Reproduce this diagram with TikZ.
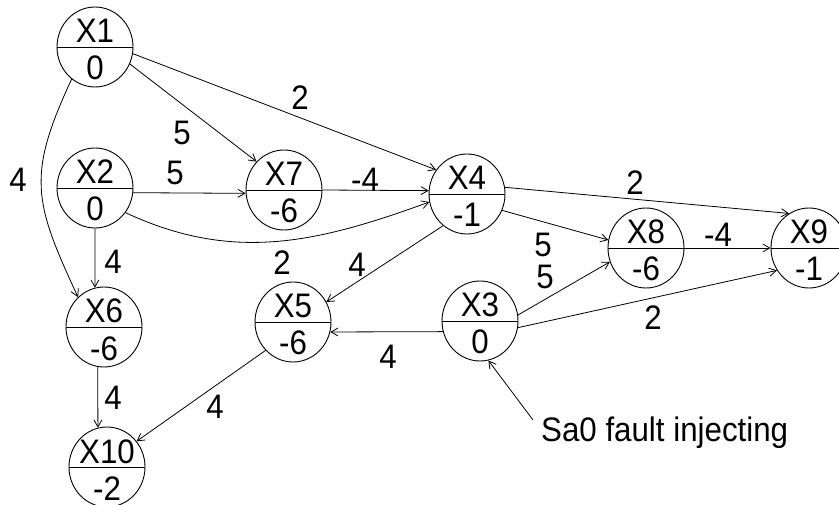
\documentclass[tikz,border=0pt]{standalone}
\usepackage{fontspec}
\setmainfont[FakeStretch=0.92]{Liberation Sans}
\usetikzlibrary{arrows.meta,shapes.geometric}

% vertex: name, x, y, upper text, lower text
\newcommand\gvert[5]{%
  \node[vtx] (#1) at (#2,#3) {};
  \draw[thinline] (#1.west) -- (#1.east);
  \node[lbl,anchor=base] (#1t) at ([yshift=4pt]#1.center) {#4};
  \node[lbl,anchor=base] (#1b) at ([yshift=-33pt]#1.center) {#5};
}

\begin{document}
\begin{tikzpicture}[x=1pt,y=1pt,
  thinline/.style={line width=0.9pt},
  vtx/.style={draw,ellipse,minimum width=76pt,minimum height=80pt,inner sep=0pt,thinline},
  lbl/.style={font=\fontsize{34}{34}\selectfont,inner sep=0pt},
  edge/.style={line width=0.8pt,-{Straight Barb[length=7pt,width=8pt]}},
]
\clip (0,0) rectangle (839,-505);

% vertices
\gvert{X1}{95}{-47}{X1}{0}
\gvert{X2}{95}{-188}{X2}{0}
\gvert{X6}{104}{-327}{X6}{-6}
\gvert{X10}{107}{-467}{X10}{-2}
\gvert{X7}{284}{-190}{X7}{-6}
\gvert{X4}{467}{-194}{X4}{-1}
\gvert{X5}{293}{-322}{X5}{-6}
\gvert{X3}{480}{-321}{X3}{0}
\gvert{X8}{646}{-248}{X8}{-6}
\gvert{X9}{809}{-248}{X9}{-1}

% weighted edges
\draw[edge] (X1.-10) -- (X4.142);
\draw[edge] (X1.-26) -- (X7.134);
\draw[edge] (X1.234) to[out=245,in=115,looseness=1.24] (X6.131);
\draw[edge] (X2.-7) -- (X7.185);
\draw[edge] (X2.-39) to[out=-25,in=200] (X4.192);
\draw[edge] (X2.south) -- (X6.103);
\draw[edge] (X7.east) -- (X4.175);
\draw[edge] (X4.10) -- (X9.120);
\draw[edge] (X4.-25) -- (X8.168);
\draw[edge] (X4.233) -- (X5.31);
\draw[edge] (X3.9) -- (X8.201);
\draw[edge] (X3.-10) -- (X9.215);
\draw[edge] (X3.196) -- (X5.-15);
\draw[edge] (X8.east) -- (X9.west);
\draw[edge] (X5.226) -- (X10.41);
\draw[edge] (X6.261) -- (X10.103);

% weights
\node[lbl] (w1) at (300,-98) {2};
\node[lbl] (w2) at (182,-133) {5};
\node[lbl] (w3) at (18,-180) {4};
\node[lbl] (w4) at (175,-173) {5};
\node[lbl] (w5) at (282,-263) {2};
\node[lbl] (w6) at (113,-262) {4};
\node[lbl] (w7) at (365,-180) {-4};
\node[lbl] (w8) at (635,-183) {2};
\node[lbl] (w9) at (543,-245) {5};
\node[lbl] (w10) at (357,-265) {4};
\node[lbl] (w11) at (545,-277) {5};
\node[lbl] (w12) at (653,-318) {2};
\node[lbl] (w13) at (388,-357) {4};
\node[lbl] (w14) at (718,-235) {-4};
\node[lbl] (w15) at (215,-407) {4};
\node[lbl] (w16) at (113,-398) {4};

% fault injection note
\node[lbl,anchor=base west] (note) at (541,-441) {Sa0 fault injecting};
\coordinate (sa0) at (533,-420);
\draw[edge] (sa0) -- (X3.-78);
\end{tikzpicture}
\end{document}
